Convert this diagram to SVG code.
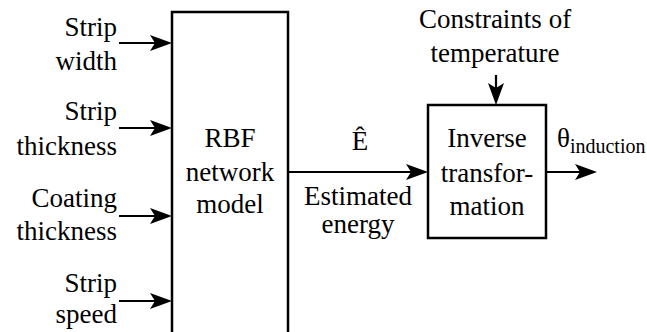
<svg xmlns="http://www.w3.org/2000/svg" xmlns:xlink="http://www.w3.org/1999/xlink" width="647" height="332" viewBox="0 0 647 332">
<defs>
<path id="ah" d="M-22,-8 L0,0 L-22,8 L-17,0 Z" fill="#000"/>
</defs>
<rect width="647" height="332" fill="#fff"/>
<g id="connectors" stroke="#000" stroke-width="2.2" fill="none">
<line x1="119" y1="43" x2="160" y2="43"/><use xlink:href="#ah" href="#ah" x="172" y="43" stroke="none"/>
<line x1="119" y1="128" x2="160" y2="128"/><use xlink:href="#ah" href="#ah" x="172" y="128" stroke="none"/>
<line x1="119" y1="216" x2="160" y2="216"/><use xlink:href="#ah" href="#ah" x="172" y="216" stroke="none"/>
<line x1="119" y1="301" x2="160" y2="301"/><use xlink:href="#ah" href="#ah" x="172" y="301" stroke="none"/>
<line x1="288" y1="172" x2="416" y2="172"/><use xlink:href="#ah" href="#ah" x="428" y="172" stroke="none"/>
<line x1="496" y1="75" x2="496" y2="94"/><use xlink:href="#ah" href="#ah" transform="translate(496 105) rotate(90)" stroke="none"/>
<line x1="546" y1="172" x2="585" y2="172"/><use xlink:href="#ah" href="#ah" x="597" y="172" stroke="none"/>
</g>
<g id="rbf">
<rect x="172" y="12" width="116" height="340" fill="#fff" stroke="#000" stroke-width="2.5"/>
<text x="230" y="147" text-anchor="middle" font-family="Liberation Serif, Times New Roman, serif" font-size="27">RBF</text>
<text x="230" y="181" text-anchor="middle" font-family="Liberation Serif, Times New Roman, serif" font-size="27">network</text>
<text x="230" y="213" text-anchor="middle" font-family="Liberation Serif, Times New Roman, serif" font-size="27">model</text>
</g>
<g id="in-width"><text x="117" y="36" text-anchor="end" font-family="Liberation Serif, Times New Roman, serif" font-size="27">Strip</text><text x="117" y="70" text-anchor="end" font-family="Liberation Serif, Times New Roman, serif" font-size="27">width</text></g>
<g id="in-thickness"><text x="117" y="120" text-anchor="end" font-family="Liberation Serif, Times New Roman, serif" font-size="27">Strip</text><text x="117" y="155" text-anchor="end" font-family="Liberation Serif, Times New Roman, serif" font-size="27">thickness</text></g>
<g id="in-coating"><text x="117" y="207" text-anchor="end" font-family="Liberation Serif, Times New Roman, serif" font-size="27">Coating</text><text x="117" y="240" text-anchor="end" font-family="Liberation Serif, Times New Roman, serif" font-size="27">thickness</text></g>
<g id="in-speed"><text x="117" y="292" text-anchor="end" font-family="Liberation Serif, Times New Roman, serif" font-size="27">Strip</text><text x="117" y="323" text-anchor="end" font-family="Liberation Serif, Times New Roman, serif" font-size="27">speed</text></g>
<g id="energy-label">
<text x="360" y="150" text-anchor="middle" font-family="Liberation Serif, Times New Roman, serif" font-size="27">Ê</text>
<text x="358" y="205" text-anchor="middle" font-family="Liberation Serif, Times New Roman, serif" font-size="27">Estimated</text>
<text x="358" y="233" text-anchor="middle" font-family="Liberation Serif, Times New Roman, serif" font-size="27">energy</text>
</g>
<g id="constraints">
<text x="495" y="28" text-anchor="middle" font-family="Liberation Serif, Times New Roman, serif" font-size="27">Constraints of</text>
<text x="495" y="62" text-anchor="middle" font-family="Liberation Serif, Times New Roman, serif" font-size="27">temperature</text>
</g>
<g id="inverse">
<rect x="428" y="105" width="118" height="133" fill="#fff" stroke="#000" stroke-width="2.5"/>
<text x="487" y="147" text-anchor="middle" font-family="Liberation Serif, Times New Roman, serif" font-size="27">Inverse</text>
<text x="487" y="182" text-anchor="middle" font-family="Liberation Serif, Times New Roman, serif" font-size="27">transfor-</text>
<text x="487" y="215" text-anchor="middle" font-family="Liberation Serif, Times New Roman, serif" font-size="27">mation</text>
</g>
<g id="output"><text x="557" y="147" font-family="Liberation Serif, Times New Roman, serif" font-size="27">θ<tspan font-size="20" dy="6">induction</tspan></text></g>
</svg>
